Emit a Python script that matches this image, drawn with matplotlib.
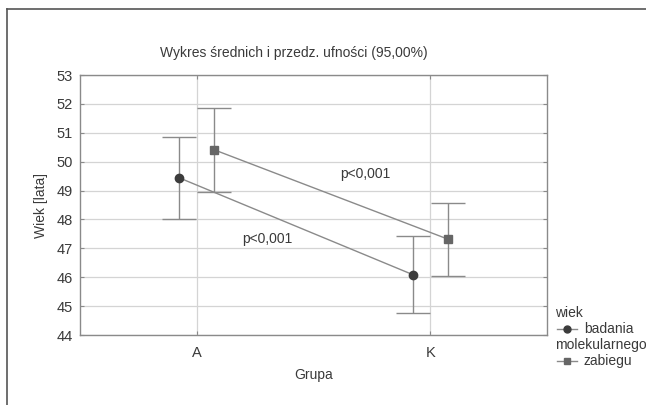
import matplotlib
matplotlib.use("Agg")
import matplotlib.pyplot as plt
from matplotlib.lines import Line2D

plt.rcParams['font.family'] = ['Liberation Sans', 'DejaVu Sans']

groups = ["A", "K"]
legend_title = "wiek"
series_names = ["badania", "zabiegu"]
series_name_extra = "molekularnego"
means_badania = [49.44, 46.09]
upper_badania = [50.86, 47.42]
lower_badania = [48.03, 44.77]
means_zabiegu = [50.41, 47.32]
upper_zabiegu = [51.87, 48.56]
lower_zabiegu = [48.94, 46.04]
yticks = [44, 45, 46, 47, 48, 49, 50, 51, 52, 53]
p_labels = ["p<0,001", "p<0,001"]

txt = "#3a3a3a"
lc = "#8a8a8a"
c_b = "#3c3c3c"
c_z = "#666666"
fs = 10

fig = plt.figure(figsize=(6.46, 4.05), dpi=100)
ax = fig.add_axes([80/646, 1-335/405, (547-80)/646, (335-75)/405])

xpos = list(range(len(groups)))
off = 0.075
xb = [x - off for x in xpos]
xz = [x + off for x in xpos]

ax.plot(xb, means_badania, color=lc, lw=1.0, zorder=2)
ax.plot(xz, means_zabiegu, color=lc, lw=1.0, zorder=2)
ax.errorbar(xb, means_badania,
            yerr=[[m - l for m, l in zip(means_badania, lower_badania)],
                  [u - m for m, u in zip(means_badania, upper_badania)]],
            fmt='o', color=c_b, ms=6, ecolor=lc, elinewidth=1.0,
            capsize=12, capthick=1.0, zorder=3)
ax.errorbar(xz, means_zabiegu,
            yerr=[[m - l for m, l in zip(means_zabiegu, lower_zabiegu)],
                  [u - m for m, u in zip(means_zabiegu, upper_zabiegu)]],
            fmt='s', color=c_z, ms=6, ecolor=lc, elinewidth=1.0,
            capsize=12, capthick=1.0, zorder=3)

ax.set_xlim(-0.5, 1.5)
ax.set_ylim(44, 53)
ax.set_yticks(yticks)
ax.set_xticks(xpos)
ax.set_xticklabels(groups)
ax.grid(True, color="#d4d4d4", lw=0.9, zorder=0)
ax.set_axisbelow(True)
for s in ax.spines.values():
    s.set_color(lc)
    s.set_linewidth(1.0)
ax.tick_params(axis='both', which='both', colors=lc, labelcolor=txt,
               labelsize=10.5, length=0)
ax.tick_params(axis='y', right=True, direction='in', length=3, pad=5)
ax.tick_params(axis='x', top=True, direction='in', length=3, pad=8)

ax.set_xlabel("Grupa", color=txt, fontsize=fs, labelpad=6)
ax.set_ylabel("Wiek [lata]", color=txt, fontsize=fs, labelpad=6)

ax.text(0.72, 49.58, p_labels[0], color=txt, fontsize=fs, ha='center', va='center')
ax.text(0.30, 47.34, p_labels[1], color=txt, fontsize=fs, ha='center', va='center')

fig.text(294/646, 1-53/405, "Wykres średnich i przedz. ufności (95,00%)",
         color=txt, fontsize=fs, ha='center', va='center')

# legend (drawn manually to match left-aligned wrapped label)
def fx(p):
    return p / 646
def fy(p):
    return 1 - p / 405

fig.text(fx(555), fy(313), legend_title, color=txt, fontsize=fs, ha='left', va='center')
for yy, mk, mc, name in [(329, 'o', c_b, series_names[0]), (361, 's', c_z, series_names[1])]:
    fig.add_artist(Line2D([fx(557), fx(577)], [fy(yy), fy(yy)], transform=fig.transFigure,
                          color=lc, lw=1.0))
    fig.add_artist(Line2D([fx(567)], [fy(yy)], transform=fig.transFigure, marker=mk,
                          color=mc, ms=5, lw=0))
    fig.text(fx(584), fy(yy), name, color=txt, fontsize=fs, ha='left', va='center')
fig.text(fx(555), fy(345), series_name_extra, color=txt, fontsize=fs, ha='left', va='center')

# outer frame
fig.add_artist(Line2D([fx(7), fx(7)], [0, fy(9)], transform=fig.transFigure, color="#555555", lw=1.2))
fig.add_artist(Line2D([fx(7), 1], [fy(9), fy(9)], transform=fig.transFigure, color="#555555", lw=1.2))

fig.savefig("out.png", dpi=100, facecolor="white")
